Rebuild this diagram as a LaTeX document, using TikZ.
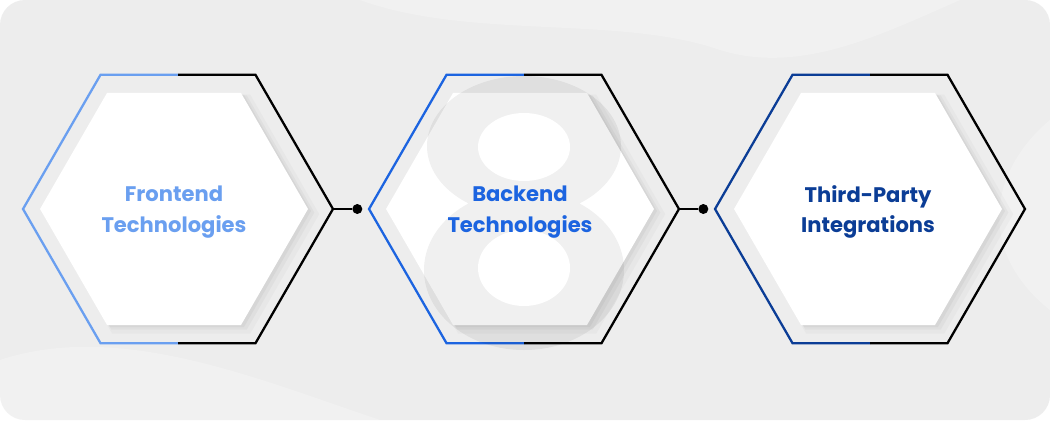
\documentclass[tikz,border=0pt]{standalone}
\usepackage{fontspec}
\setmainfont{Poppins}
\usepackage{tikz}
\usetikzlibrary{positioning,calc,shapes.geometric,shadows}

\definecolor{cardgray}{HTML}{EDEDED}
\definecolor{frontblue}{HTML}{6A9FF0}
\definecolor{backblue}{HTML}{1C64E0}
\definecolor{thirdblue}{HTML}{0B3D96}

\tikzset{
  outerhex/.style={regular polygon, regular polygon sides=6, minimum size=6.2cm,
    inner sep=0pt, outer sep=0pt},
  innerhex/.style={regular polygon, regular polygon sides=6, minimum size=5.36cm,
    inner sep=0pt, outer sep=0pt, fill=white,
    drop shadow={shadow xshift=1.4mm, shadow yshift=-1mm, shadow scale=1.03, opacity=.05},
    drop shadow={shadow xshift=1mm, shadow yshift=-.7mm, shadow scale=1.01, opacity=.07},
    drop shadow={shadow xshift=.6mm, shadow yshift=-.4mm, opacity=.09}},
  hexlabel/.style={align=center, font=\bfseries\fontsize{12}{17.2}\selectfont},
  rim/.style={line width=1.3pt},
  joint/.style={circle, fill=black, inner sep=0pt, minimum size=0.2cm},
  link/.style={line width=1.3pt}
}

\begin{document}
\begin{tikzpicture}[x=0.02cm,y=0.02cm]
  \useasboundingbox (0,0) rectangle (1050,420);
  % card
  \fill[white] (0,0) rectangle (1050,420);
  \fill[cardgray, rounded corners=0.5cm] (0,0) rectangle (1050,420);
  % faint swirls on the card
  \fill[white, opacity=.25] (360,420) .. controls (470,380) and (620,405) .. (720,370)
    .. controls (800,345) and (880,385) .. (960,420) -- cycle;
  \fill[white, opacity=.25] (1050,300) .. controls (990,250) and (975,170) .. (1050,110) -- cycle;
  \fill[white, opacity=.25] (0,60) .. controls (120,100) and (260,40) .. (380,0) -- (0,0) -- cycle;

  % outer frames
  \node[outerhex] (front-frame) at (178,211) {};
  \node[outerhex] (back-frame) at (524,211) {};
  \node[outerhex] (third-frame) at (870,211) {};
  \foreach \f/\c in {front/frontblue, back/backblue, third/thirdblue}{
    \draw[rim, \c] (\f-frame.north) -- (\f-frame.120) -- (\f-frame.west)
      -- (\f-frame.240) -- (\f-frame.south);
    \draw[rim, black] (\f-frame.north) -- (\f-frame.60) -- (\f-frame.east)
      -- (\f-frame.300) -- (\f-frame.south);
  }

  % joints between the frames
  \node[joint, right=0.38cm of front-frame.east] (joint1) {};
  \node[joint, right=0.38cm of back-frame.east] (joint2) {};
  \draw[link] (front-frame.east) -- (joint1);
  \draw[link] (back-frame.east) -- (joint2);

  % white faces
  \node[innerhex] (front-face) at ($(front-frame)+(-4,0)$) {};
  \node[innerhex] (back-face) at ($(back-frame)+(-4,0)$) {};
  \node[innerhex] (third-face) at ($(third-frame)+(-2,0)$) {};

  % big faint 8 behind the middle label
  \fill[black, opacity=.06] (524,274) ellipse [x radius=97, y radius=70]
    (524,150) ellipse [x radius=100, y radius=80];
  \fill[white] (524,273) ellipse [x radius=46, y radius=34];
  \fill[white] (524,152) ellipse [x radius=46, y radius=38];

  % labels
  \node[hexlabel, text=frontblue] (front-label) at ($(front-face)+(0,-3)$) {Frontend\\Technologies};
  \node[hexlabel, text=backblue] (back-label) at ($(back-face)+(0,-3)$) {Backend\\Technologies};
  \node[hexlabel, text=thirdblue] (third-label) at ($(third-face)+(0,-3)$) {Third-Party\\Integrations};
\end{tikzpicture}
\end{document}
